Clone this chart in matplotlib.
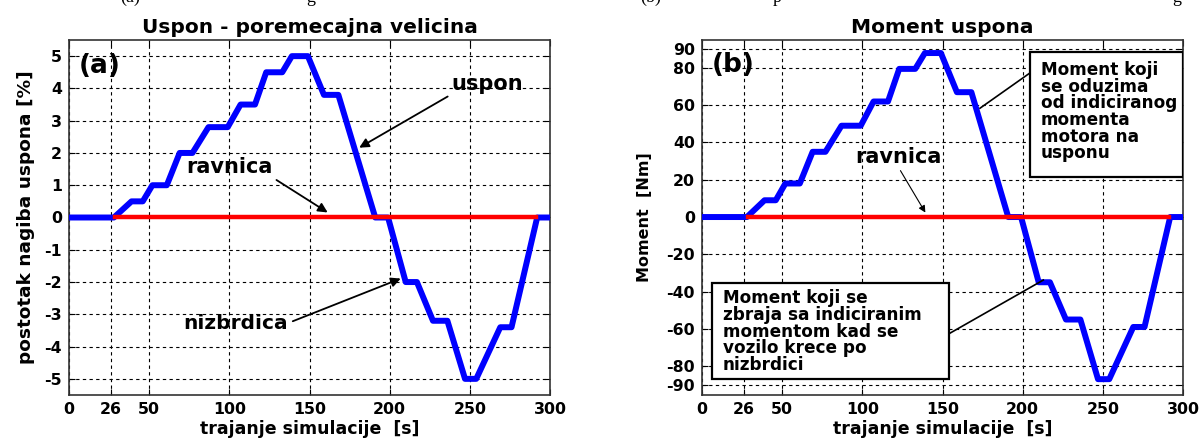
import matplotlib
matplotlib.use("Agg")
import matplotlib.pyplot as plt
from matplotlib.patches import Rectangle

plt.rcParams['font.family'] = ['DejaVu Sans']
plt.rcParams['font.weight'] = 'bold'
plt.rcParams['axes.unicode_minus'] = False

# ---- data ----
time_s = [0, 28, 39, 46, 52, 61, 69, 77, 87, 99, 107, 116, 123, 133, 139, 149,
          159, 168, 191, 199, 210, 217, 227, 236, 247, 254, 269, 276, 292, 300]
slope_pct = [0, 0, 0.5, 0.5, 1.0, 1.0, 2.0, 2.0, 2.8, 2.8, 3.5, 3.5, 4.5, 4.5, 5.0, 5.0,
             3.8, 3.8, 0, 0, -2.0, -2.0, -3.2, -3.2, -5.0, -5.0, -3.4, -3.4, 0, 0]
moment_nm = [0, 0, 9, 9, 18, 18, 35, 35, 49, 49, 62, 62, 79.5, 79.5, 88, 88,
             67, 67, 0, 0, -35, -35, -55, -55, -87, -87, -59, -59, 0, 0]
flat_t = [29, 291]
flat_v = [0, 0]

x_ticks = [0, 26, 50, 100, 150, 200, 250, 300]
y_ticks_a = [-5, -4, -3, -2, -1, 0, 1, 2, 3, 4, 5]
y_ticks_b = [-90, -80, -60, -40, -20, 0, 20, 40, 60, 80, 90]

titles = ["Uspon - poremecajna velicina", "Moment uspona"]
xlabel = "trajanje simulacije  [s]"
ylabels = ["postotak nagiba uspona [%]", "Moment  [Nm]"]
box_up = "Moment koji\nse oduzima\nod indiciranog\nmomenta\nmotora na\nusponu"
box_down = "Moment koji se\nzbraja sa indiciranim\nmomentom kad se\nvozilo krece po\nnizbrdici"

W, H = 1203, 441
fig = plt.figure(figsize=(W / 100, H / 100), dpi=100)
axA = fig.add_axes([69 / W, 1 - 395 / H, 481 / W, 355 / H])
axB = fig.add_axes([702 / W, 1 - 395 / H, 481 / W, 355 / H])


def style(ax, yticks, ylim):
    ax.set_xlim(0, 300)
    ax.set_ylim(*ylim)
    ax.set_xticks(x_ticks)
    ax.set_yticks(yticks)
    ax.grid(True, color='black', linestyle=(0, (3, 3)), linewidth=0.8)
    ax.tick_params(direction='in', length=4, top=True, right=True,
                   labelsize=11.3, width=0.8, pad=5)
    for lab in ax.get_xticklabels() + ax.get_yticklabels():
        lab.set_fontweight('bold')
    for s in ax.spines.values():
        s.set_linewidth(1.2)
        s.set_color('#333333')
    ax.set_xlabel(xlabel, fontsize=12.5, fontweight='bold', labelpad=2)


ap = dict(arrowstyle='-|>', color='black', lw=1.3, mutation_scale=14)

# ---- panel (a) ----
axA.plot(time_s, slope_pct, color='#0000ff', linewidth=4.3, zorder=3)
axA.plot(flat_t, flat_v, color='#ff0000', linewidth=3.2, zorder=4)
style(axA, y_ticks_a, (-5.5, 5.5))
axA.set_title(titles[0], fontsize=14.5, fontweight='bold', pad=5)
axA.set_ylabel(ylabels[0], fontsize=13.3, fontweight='bold')
axA.yaxis.set_label_coords(-(69 - 35) / 481, 0.5)
axA.text(6, 4.7, "(a)", fontsize=19, fontweight='bold', va='center', ha='left', zorder=5)
axA.annotate("uspon", xy=(179.5, 2.12), xytext=(261, 4.13), fontsize=15, fontweight='bold',
             ha='center', va='center',
             arrowprops=dict(ap, shrinkA=1, relpos=(0.0, 0.0)), zorder=5)
axA.annotate("ravnica", xy=(162.8, 0.11), xytext=(100, 1.55), fontsize=15, fontweight='bold',
             ha='center', va='center',
             arrowprops=dict(ap, shrinkA=1, relpos=(1.0, 0.0)), zorder=5)
axA.annotate("nizbrdica", xy=(208.5, -1.86), xytext=(103.6, -3.28), fontsize=14.5,
             fontweight='bold', ha='center', va='center',
             arrowprops=dict(ap, shrinkA=2, relpos=(1.0, 0.5)), zorder=5)

# ---- panel (b) ----
axB.plot(time_s, moment_nm, color='#0000ff', linewidth=4.3, zorder=3)
axB.plot(flat_t, flat_v, color='#ff0000', linewidth=3.2, zorder=4)
style(axB, y_ticks_b, (-95.5, 95))
axB.set_title(titles[1], fontsize=14.5, fontweight='bold', pad=5)
axB.set_ylabel(ylabels[1], fontsize=11.5, fontweight='bold')
axB.yaxis.set_label_coords(-(702 - 652) / 481, 0.5)
axB.text(6, 81.6, "(b)", fontsize=19, fontweight='bold', va='center', ha='left', zorder=5)
axB.annotate("ravnica", xy=(140.2, 1.1), xytext=(122.3, 32.4), fontsize=15, fontweight='bold',
             ha='center', va='center',
             arrowprops=dict(arrowstyle='-|>', color='black', lw=0.8, mutation_scale=10,
                             shrinkA=1, relpos=(0.5, 0.0)), zorder=5)

# boxes
axB.add_patch(Rectangle((204.5, 21.5), 95.5, 67.1, facecolor='white', edgecolor='black',
                        linewidth=1.6, zorder=6))
axB.text(211.3, 56.5, box_up, fontsize=12.2, fontweight='bold', va='center', ha='left',
         linespacing=0.9, zorder=7)
axB.plot([208.8, 173.4], [79.9, 58.4], color='black', linewidth=1.2, zorder=5)

axB.add_patch(Rectangle((6.2, -87), 147.8, 51.6, facecolor='white', edgecolor='black',
                        linewidth=1.6, zorder=6))
axB.text(12.8, -61.5, box_down, fontsize=12.2, fontweight='bold', va='center', ha='left',
         linespacing=0.9, zorder=7)
axB.plot([154.3, 212.9], [-62.5, -33.8], color='black', linewidth=1.2, zorder=5)

# cut-off caption fragments at the very top of the page
for xpx, frag in [(130, "(a)"), (311, "g"), (651, "(b)"), (777, "p"), (1177, "g")]:
    fig.text(xpx / W, 1 - 1.5 / H, frag, fontsize=13, family='Liberation Serif',
             fontweight='normal', ha='center', va='baseline')

fig.savefig("out.png", dpi=100)
